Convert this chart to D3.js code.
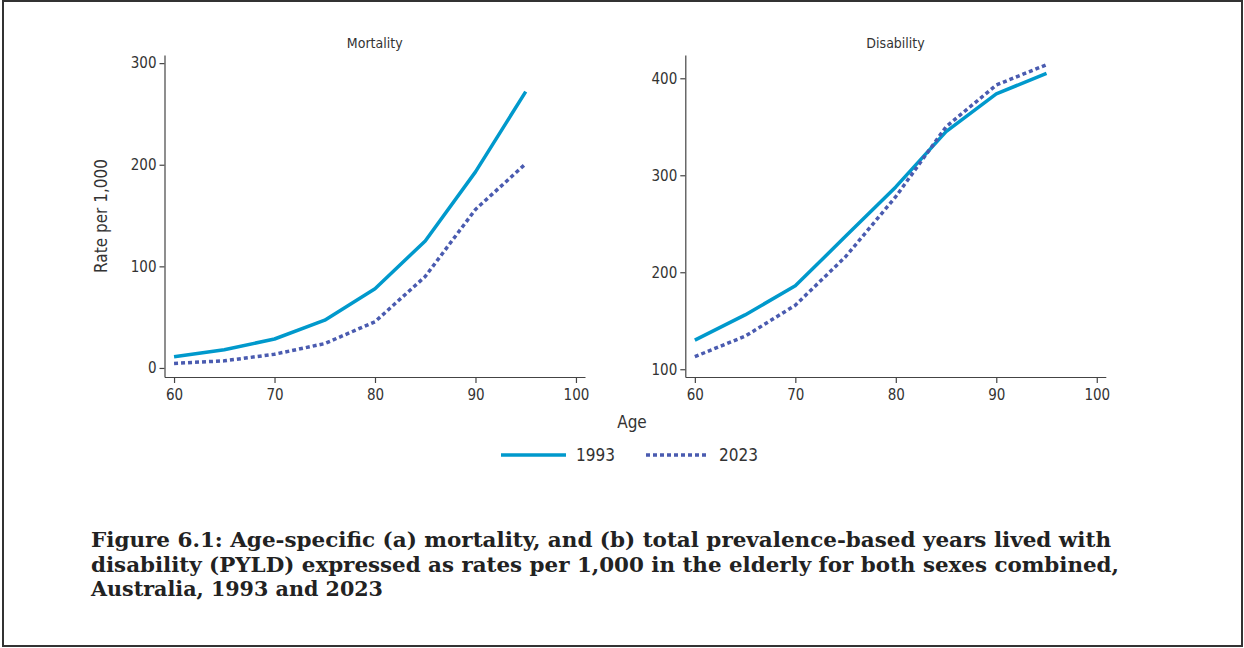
<!DOCTYPE html>
<html>
<head>
<meta charset="utf-8">
<script src="https://cdn.jsdelivr.net/npm/d3@7"></script>
<style>
    body { margin: 0; background: #fff; }
    svg { display: block; }
    .axis text { font-family: "DejaVu Sans Condensed", sans-serif; font-size: 15px; fill: #333; }
    .axis path, .axis line { stroke: #444; stroke-width: 1.2; }
    .ptitle { font-family: "DejaVu Sans Condensed", sans-serif; font-size: 14px; fill: #333; }
    .lbl { font-family: "DejaVu Sans Condensed", sans-serif; font-size: 17px; fill: #333; }
    .caption { font-family: "DejaVu Serif Condensed", "DejaVu Serif", serif; font-weight: bold; font-size: 21px; fill: #222; }
</style>
</head>
<body>
<div id="chart"></div>
<script>
// ages along the x axis
const ages = [60, 65, 70, 75, 80, 85, 90, 95];
const xTicks = [60, 70, 80, 90, 100];

// mortality rates per 1,000
const mortality1993 = [11, 18, 28.5, 47, 78, 125, 193, 272];
const mortality2023 = [4.5, 7, 13.5, 24, 45.5, 90, 156, 201];

// disability (PYLD) rates per 1,000
const disability1993 = [130, 156, 186, 237, 288, 345, 384, 405];
const disability2023 = [113, 134, 166, 216, 278, 350, 393, 414];

const years = ["1993", "2023"];
const colors = ["#0099cc", "#4a5bb0"];

const captionLines = [
    "Figure 6.1: Age-specific (a) mortality, and (b) total prevalence-based years lived with",
    "disability (PYLD) expressed as rates per 1,000 in the elderly for both sexes combined,",
    "Australia, 1993 and 2023"
];
const captionWidths = [1020, 1028, 292];

const W = 1244, H = 648;
const svg = d3.select("#chart").append("svg")
    .attr("width", W)
    .attr("height", H);

// frame
svg.append("rect")
    .attr("x", 3).attr("y", 1)
    .attr("width", 1239).attr("height", 645)
    .attr("fill", "none")
    .attr("stroke", "#333")
    .attr("stroke-width", 2);

const panels = [
    {title: "Mortality", left: 164.5, yDomain: [-8.9, 308], yTicks: [0, 100, 200, 300], series: [mortality1993, mortality2023]},
    {title: "Disability", left: 685.3, yDomain: [92, 424], yTicks: [100, 200, 300, 400], series: [disability1993, disability2023]}
];

const plotTop = 55, plotBottom = 377, panelW = 420.5;

panels.forEach((p, pi) => {
    const g = svg.append("g").attr("transform", `translate(${p.left}, 0)`);

    const x = d3.scaleLinear().domain([59.05, 100.9]).range([0, panelW]);
    const y = d3.scaleLinear().domain(p.yDomain).range([plotBottom, plotTop]);

    g.append("g")
        .attr("class", "axis")
        .attr("transform", `translate(0, ${plotBottom})`)
        .call(d3.axisBottom(x).tickValues(xTicks).tickSize(6).tickPadding(6).tickSizeOuter(0));

    g.append("g")
        .attr("class", "axis")
        .call(d3.axisLeft(y).tickValues(p.yTicks).tickSize(5).tickPadding(3).tickSizeOuter(0));

    g.append("text")
        .attr("class", "ptitle")
        .attr("x", panelW / 2)
        .attr("y", 48)
        .attr("text-anchor", "middle")
        .text(p.title);

    const line = d3.line()
        .x((d, i) => x(ages[i]))
        .y(d => y(d));

    p.series.forEach((s, si) => {
        g.append("path")
            .datum(s)
            .attr("d", line)
            .attr("fill", "none")
            .attr("stroke", colors[si])
            .attr("stroke-width", 3.5)
            .attr("stroke-dasharray", si === 0 ? null : "4,3")
            .attr("stroke-linejoin", "round");
    });

    if (pi === 0) {
        g.append("text")
            .attr("class", "lbl")
            .attr("transform", `translate(-58, ${(plotTop + plotBottom) / 2}) rotate(-90)`)
            .attr("text-anchor", "middle")
            .text("Rate per 1,000");
    }
});

// shared x label
svg.append("text")
    .attr("class", "lbl")
    .attr("x", 632)
    .attr("y", 428)
    .attr("text-anchor", "middle")
    .text("Age");

// legend
const legend = svg.append("g").attr("transform", "translate(501, 455)");
years.forEach((yr, i) => {
    const lx = i * 145;
    legend.append("line")
        .attr("x1", lx).attr("x2", lx + (i === 0 ? 65 : 62))
        .attr("y1", 0).attr("y2", 0)
        .attr("stroke", colors[i])
        .attr("stroke-width", 3.5)
        .attr("stroke-dasharray", i === 0 ? null : "4,3");
    legend.append("text")
        .attr("class", "lbl")
        .attr("x", lx + (i === 0 ? 75 : 73))
        .attr("y", 6)
        .text(yr);
});

// caption
svg.append("g").selectAll("text")
    .data(captionLines)
    .enter()
    .append("text")
    .attr("class", "caption")
    .attr("x", 91)
    .attr("y", (d, i) => 547 + i * 24.5)
    .attr("textLength", (d, i) => captionWidths[i])
    .attr("lengthAdjust", "spacingAndGlyphs")
    .text(d => d);
</script>
</body>
</html>
